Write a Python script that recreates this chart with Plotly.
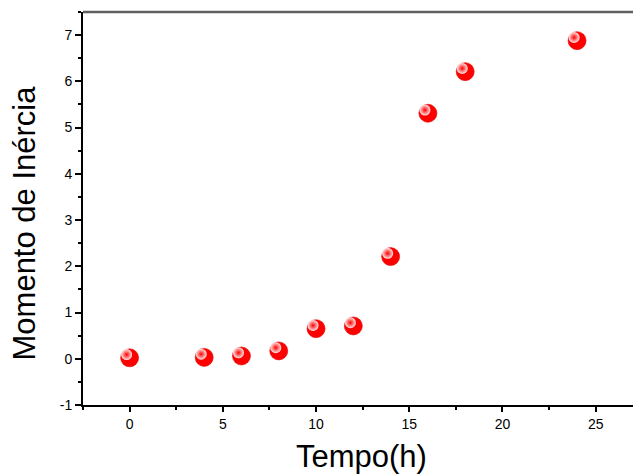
import plotly.graph_objects as go

tempo = [0, 4, 6, 8, 10, 12, 14, 16, 18, 24]
momento = [0.02, 0.03, 0.06, 0.17, 0.65, 0.71, 2.21, 5.31, 6.21, 6.88]

x_ticks = [0, 5, 10, 15, 20, 25]
y_ticks = [-1, 0, 1, 2, 3, 4, 5, 6, 7]
y_tick_labels = ["-1", "0", "1", "2", "3", "4", "5", "6", "7"]
x_title = "Tempo(h)"
y_title = "Momento de Inércia"

fig = go.Figure()
fig.add_trace(go.Scatter(
    x=tempo, y=momento, mode="markers",
    marker=dict(size=18, color="#ff0000",
                line=dict(color="#e00000", width=0.6)),
    showlegend=False, hoverinfo="x+y"))
# specular highlight of sphere markers
fig.add_trace(go.Scatter(
    x=[t - 0.16 for t in tempo], y=[m + 0.07 for m in momento], mode="markers",
    marker=dict(size=11, color="#ffe8e8",
                gradient=dict(type="radial", color="#ff0000"),
                line=dict(width=0)),
    showlegend=False, hoverinfo="skip"))

axis_font = dict(family="Liberation Sans, Arial, sans-serif", size=14, color="black")
title_font = dict(family="Liberation Sans, Arial, sans-serif", size=31, color="black")
fig.update_layout(
    width=633, height=475,
    margin=dict(l=83, r=0, t=12, b=70),
    paper_bgcolor="white", plot_bgcolor="white",
    font=dict(family="Liberation Sans, Arial, sans-serif", color="black"),
    xaxis=dict(range=[-2.5, 27], tickvals=x_ticks, ticks="outside", ticklen=5,
               tickwidth=1.5, tickcolor="black", showline=True, linecolor="black",
               linewidth=2, showgrid=False, zeroline=False, tickfont=axis_font,
               automargin=False,
               minor=dict(dtick=2.5, tick0=0, ticks="outside", ticklen=3,
                          tickwidth=1.5, tickcolor="black", showgrid=False)),
    yaxis=dict(range=[-1, 7.5], tickvals=y_ticks, ticktext=y_tick_labels,
               ticks="outside", ticklen=6,
               tickwidth=1.5, tickcolor="black", showline=True, linecolor="black",
               linewidth=2, showgrid=False, zeroline=False, tickfont=axis_font,
               automargin=False,
               minor=dict(dtick=0.5, tick0=0, ticks="outside", ticklen=3,
                          tickwidth=1.5, tickcolor="black", showgrid=False)),
    shapes=[dict(type="line", xref="paper", yref="paper", x0=0, x1=1, y0=1, y1=1,
                 layer="above", line=dict(color="#606060", width=2.5))],
    annotations=[
        dict(text=x_title, xref="paper", yref="paper", x=0.5, y=0,
             xanchor="center", yanchor="middle", xshift=3, yshift=-51,
             showarrow=False, font=title_font),
        dict(text=y_title, xref="paper", yref="paper", x=0, y=0.5,
             xanchor="center", yanchor="middle", xshift=-59, yshift=-15,
             textangle=-90, showarrow=False, font=title_font),
    ],
)
fig.write_html("out.html", config={"displayModeBar": False},
               post_script="document.body.style.margin='0';document.body.style.overflow='hidden';")
